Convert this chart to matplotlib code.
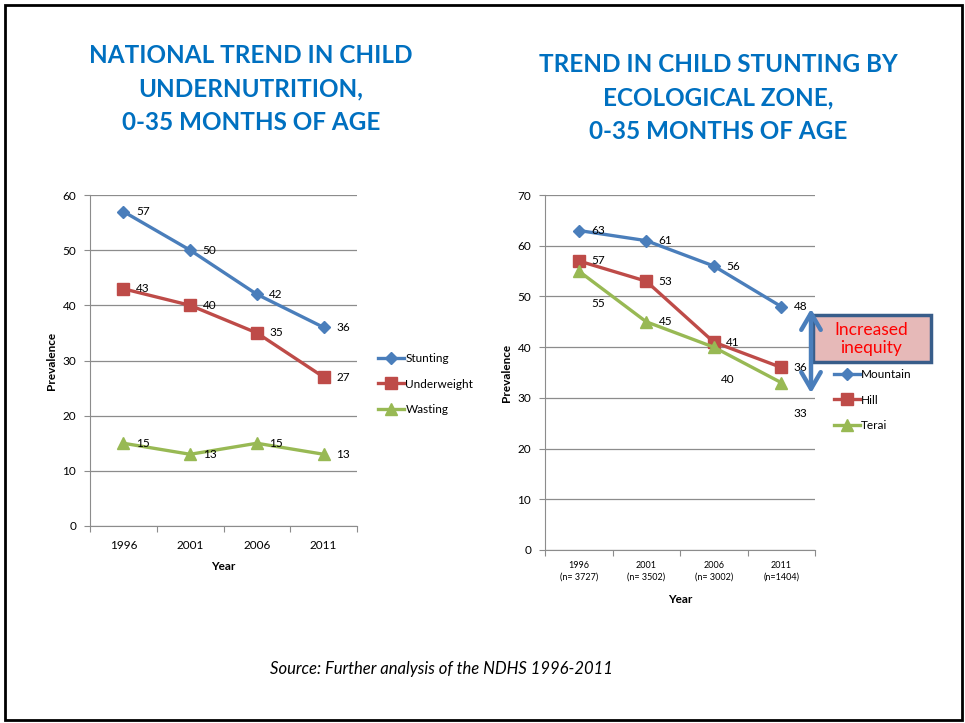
#!/usr/bin/env python3

import matplotlib
matplotlib.use("Agg")
import matplotlib.pyplot as plt
from matplotlib.patches import Rectangle, FancyArrowPatch

plt.rcParams["font.family"] = ["Lato", "DejaVu Sans"]

W, H = 965, 723

# national trend
years = ["1996", "2001", "2006", "2011"]
stunting = [57, 50, 42, 36]
underweight = [43, 40, 35, 27]
wasting = [15, 13, 15, 13]

# stunting by ecological zone
zone_ticks = ["1996\n(n= 3727)", "2001\n(n= 3502)", "2006\n(n= 3002)", "2011\n(n=1404)"]
mountain = [63, 61, 56, 48]
hill = [57, 53, 41, 36]
terai = [55, 45, 40, 33]

BLUE = "#4A7EBB"
RED = "#BE4B48"
GREEN = "#98B954"
TITLE = "#0070C0"
GRID = "#8C8C8C"


def px(x, y):
    return x / W, 1 - y / H


def box(x0, y0, x1, y1):
    return [x0 / W, 1 - y1 / H, (x1 - x0) / W, (y1 - y0) / H]


def style_axes(ax, ymax, step, labels, label_size, pad):
    n = len(labels)
    xs = list(range(n))
    ax.set_xlim(-0.5, n - 0.5)
    ax.set_ylim(0, ymax)
    ax.set_yticks(range(0, ymax + 1, step))
    ax.yaxis.grid(True, color=GRID, lw=0.9)
    ax.set_axisbelow(True)
    for s in ["top", "right"]:
        ax.spines[s].set_visible(False)
    for s in ["left", "bottom"]:
        ax.spines[s].set_color(GRID)
    ax.set_xticks([i - 0.5 for i in range(n + 1)])
    ax.set_xticklabels([])
    ax.tick_params(axis="x", which="major", direction="out", length=4, color=GRID)
    ax.set_xticks(xs, minor=True)
    ax.set_xticklabels(labels, minor=True, fontsize=label_size, linespacing=1.35)
    ax.tick_params(axis="x", which="minor", length=0, pad=pad)
    ax.tick_params(axis="y", length=4, color=GRID, labelsize=8.5, pad=6)
    ax.set_ylabel("Prevalence", fontsize=8.5, fontweight="bold", labelpad=4)
    return xs


def series(ax, xs, vals, color, marker, ms, name, offsets):
    ax.plot(xs, vals, color=color, lw=2.4, marker=marker, ms=ms,
            label=name, clip_on=False)
    for x, v, (dx, dy) in zip(xs, vals, offsets):
        ax.annotate(str(v), (x, v), xytext=(dx, dy), textcoords="offset points",
                    fontsize=8.5, va="center", ha="left")


fig = plt.figure(figsize=(W / 100, H / 100), dpi=100)

# outer frame
fig.add_artist(Rectangle((5 / W, 1 - 720 / H), 957 / W, 715 / H,
                         transform=fig.transFigure, fill=False,
                         edgecolor="black", lw=2))

# titles
fig.text(*px(251, 89), "NATIONAL TREND IN CHILD\nUNDERNUTRITION,\n0-35 MONTHS OF AGE",
         ha="center", va="center", fontsize=17.5, fontweight="bold",
         color=TITLE, linespacing=1.55)
fig.text(*px(718, 98), "TREND IN CHILD STUNTING BY\nECOLOGICAL ZONE,\n0-35 MONTHS OF AGE",
         ha="center", va="center", fontsize=17.5, fontweight="bold",
         color=TITLE, linespacing=1.55)

# left chart
ax1 = fig.add_axes(box(90, 195, 357, 526))
xs = style_axes(ax1, 60, 10, years, 8.5, 10)
right = [(9, 0)] * 4
series(ax1, xs, stunting, BLUE, "D", 6, "Stunting", right)
series(ax1, xs, underweight, RED, "s", 8, "Underweight", right)
series(ax1, xs, wasting, GREEN, "^", 8, "Wasting", right)
ax1.set_xlabel("Year", fontsize=8.5, fontweight="bold", labelpad=7)
ax1.legend(loc="center left", bbox_to_anchor=(1.04, 0.429), frameon=False,
           fontsize=8.5, handlelength=2.2, handletextpad=0.1, labelspacing=1.2)

# right chart
ax2 = fig.add_axes(box(545, 195, 815, 550))
xs = style_axes(ax2, 70, 10, zone_ticks, 6.5, 8)
series(ax2, xs, mountain, BLUE, "D", 6, "Mountain", right)
series(ax2, xs, hill, RED, "s", 8, "Hill", right)
series(ax2, xs, terai, GREEN, "^", 8, "Terai",
       [(9, -23), (9, 0), (5, -23), (9, -22)])
ax2.set_xlabel("Year", fontsize=8.5, fontweight="bold", labelpad=9)
ax2.legend(loc="center left", bbox_to_anchor=(1.03, 0.4225), frameon=False,
           fontsize=8.5, handlelength=2.2, handletextpad=0.1, labelspacing=1.2)

# inequity callout
fig.add_artist(Rectangle(px(813, 362), 118 / W, 47 / H,
                         transform=fig.transFigure, facecolor="#E6B9B8",
                         edgecolor="#385D8A", lw=2.5))
fig.text(*px(871, 339), "Increased\ninequity", ha="center", va="center",
         fontsize=12.5, color="#FF0000", linespacing=1.1)
fig.add_artist(FancyArrowPatch(px(811, 306), px(811, 396),
                               transform=fig.transFigure,
                               arrowstyle="<->,head_length=12,head_width=7",
                               color=BLUE, lw=3.2))

fig.text(*px(441, 669), "Source: Further analysis of the NDHS 1996-2011",
         ha="center", va="center", fontsize=12, style="italic")

fig.savefig("out.png", dpi=100, facecolor="white")
